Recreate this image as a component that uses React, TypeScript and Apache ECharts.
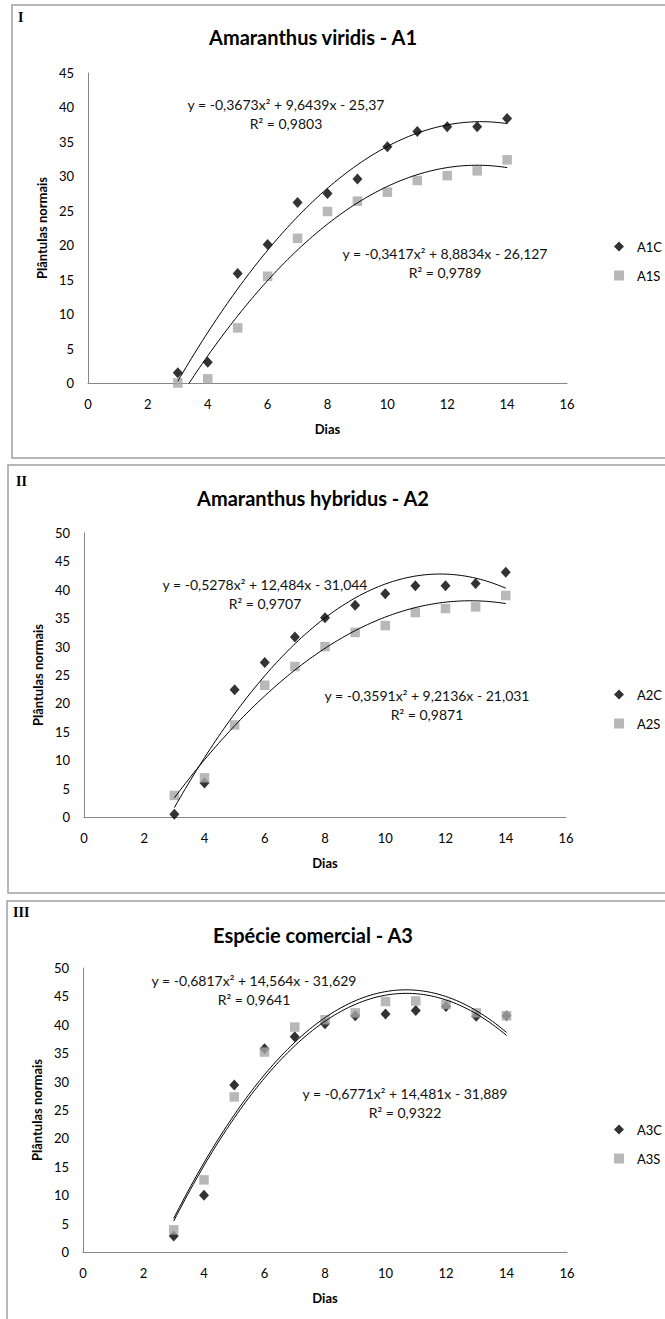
import React, { useEffect, useRef } from "react";
import * as echarts from "echarts";

// Days (x values)
const dias = [3, 4, 5, 6, 7, 8, 9, 10, 11, 12, 13, 14];

// Panel I - Amaranthus viridis
const a1c = [1.5, 3.0, 15.9, 20.1, 26.2, 27.5, 29.6, 34.3, 36.5, 37.2, 37.2, 38.4];
const a1s = [0, 0.6, 8.0, 15.5, 21.0, 24.9, 26.4, 27.7, 29.4, 30.1, 30.8, 32.4];
// Panel II - Amaranthus hybridus
const a2c = [0.5, 6.0, 22.4, 27.2, 31.7, 35.1, 37.3, 39.3, 40.7, 40.7, 41.1, 43.1];
const a2s = [3.8, 6.9, 16.2, 23.2, 26.5, 30.0, 32.5, 33.7, 36.0, 36.7, 37.0, 39.0];
// Panel III - Espécie comercial
const a3c = [2.8, 10.0, 29.4, 35.8, 37.9, 40.2, 41.6, 41.9, 42.5, 43.2, 41.5, 41.6];
const a3s = [3.9, 12.7, 27.3, 35.2, 39.6, 40.9, 42.1, 44.1, 44.2, 43.6, 42.1, 41.6];

// Trend line coefficients [a, b, c] as printed in the chart (y = a x² + b x + c)
const fitA1C = [-0.3673, 9.6439, -25.37];
const fitA1S = [-0.3417, 8.8834, -26.127];
const fitA2C = [-0.5278, 12.484, -31.044];
const fitA2S = [-0.3591, 9.2136, -21.031];
const fitA3C = [-0.6817, 14.564, -31.629];
const fitA3S = [-0.6771, 14.481, -31.889];

const eqA1C = ["y = -0,3673x² + 9,6439x - 25,37", "R² = 0,9803"];
const eqA1S = ["y = -0,3417x² + 8,8834x - 26,127", "R² = 0,9789"];
const eqA2C = ["y = -0,5278x² + 12,484x - 31,044", "R² = 0,9707"];
const eqA2S = ["y = -0,3591x² + 9,2136x - 21,031", "R² = 0,9871"];
const eqA3C = ["y = -0,6817x² + 14,564x - 31,629", "R² = 0,9641"];
const eqA3S = ["y = -0,6771x² + 14,481x - 31,889", "R² = 0,9322"];

const titles = ["Amaranthus viridis - A1", "Amaranthus hybridus - A2", "Espécie comercial - A3"];
const numerals = ["I", "II", "III"];
const seriesNames = [["A1C", "A1S"], ["A2C", "A2S"], ["A3C", "A3S"]];
const yMax = [45, 50, 50];

const FONT = "Lato, 'Open Sans', sans-serif";

function trend(c: number[], x0: number, x1: number) {
  const pts: number[][] = [];
  const n = 120;
  for (let i = 0; i <= n; i++) {
    const x = x0 + ((x1 - x0) * i) / n;
    pts.push([x, c[0] * x * x + c[1] * x + c[2]]);
  }
  return pts;
}

const pairs = (ys: number[]) => dias.map((d, i) => [d, ys[i]]);

export default function App() {
  const ref = useRef<HTMLDivElement>(null);

  useEffect(() => {
    if (!ref.current) return;
    const chart = echarts.init(ref.current, null, { renderer: "svg" });

    const grids = [
      { left: 88, top: 73, width: 479, height: 310 },
      { left: 84, top: 533, width: 482, height: 284 },
      { left: 83, top: 968, width: 484, height: 284 },
    ];
    const titleY = [22, 483, 920];
    const legendTop = [234, 682, 1117];
    const frames = [
      { x: 12, y: 5, h: 453 },
      { x: 8, y: 465, h: 428 },
      { x: 7, y: 901, h: 500 },
    ];
    const numeralPos = [
      [18, 10],
      [16, 474],
      [13, 905],
    ];

    const data = [
      [a1c, a1s],
      [a2c, a2s],
      [a3c, a3s],
    ];
    const fits = [
      [fitA1C, fitA1S],
      [fitA2C, fitA2S],
      [fitA3C, fitA3S],
    ];
    const eqs = [
      [eqA1C, eqA1S],
      [eqA2C, eqA2S],
      [eqA3C, eqA3S],
    ];
    const eqPos = [
      [
        [286, 104],
        [445, 253],
      ],
      [
        [265, 584],
        [427, 695],
      ],
      [
        [254, 980],
        [405, 1093],
      ],
    ];

    const axisLine = { show: true, lineStyle: { color: "#868686", width: 1 } };
    const axisLabel = { color: "#000", fontFamily: FONT, fontSize: 13, margin: 14 };

    const xAxis = grids.map((_, i) => ({
      type: "value",
      gridIndex: i,
      min: 0,
      max: 16,
      interval: 2,
      name: "Dias",
      nameLocation: "middle",
      nameGap: 39,
      nameTextStyle: { fontFamily: FONT, fontWeight: "bold", fontSize: 13, color: "#000" },
      axisLine,
      axisTick: { show: false },
      splitLine: { show: false },
      axisLabel,
    }));
    const yAxis = grids.map((_, i) => ({
      type: "value",
      gridIndex: i,
      min: 0,
      max: yMax[i],
      interval: 5,
      name: "Plântulas normais",
      nameLocation: "middle",
      nameRotate: 90,
      nameGap: 38,
      nameTextStyle: { fontFamily: FONT, fontWeight: "bold", fontSize: 13, color: "#000" },
      axisLine,
      axisTick: { show: false },
      splitLine: { show: false },
      axisLabel,
    }));

    const series: any[] = [];
    for (let i = 0; i < 3; i++) {
      series.push({
        name: seriesNames[i][0],
        type: "scatter",
        xAxisIndex: i,
        yAxisIndex: i,
        symbol: "diamond",
        symbolSize: [10, 11],
        itemStyle: { color: "#000" },
        z: 2,
        data: pairs(data[i][0]),
      });
      series.push({
        name: seriesNames[i][1],
        type: "scatter",
        xAxisIndex: i,
        yAxisIndex: i,
        symbol: "rect",
        symbolSize: 9.5,
        itemStyle: { color: "#a6a6a6" },
        z: 3,
        data: pairs(data[i][1]),
      });
      for (let k = 0; k < 2; k++) {
        series.push({
          name: "trend " + seriesNames[i][k],
          type: "line",
          xAxisIndex: i,
          yAxisIndex: i,
          showSymbol: false,
          symbol: "none",
          clip: true,
          silent: true,
          z: 4,
          lineStyle: { color: "#000", width: 1 },
          data: trend(fits[i][k], 3, 14),
        });
      }
    }

    const graphics: any[] = [];
    for (let i = 0; i < 3; i++) {
      graphics.push({
        type: "rect",
        shape: { x: frames[i].x, y: frames[i].y, width: 720, height: frames[i].h },
        style: { fill: "none", stroke: "#a0a0a0", lineWidth: 1.5 },
        silent: true,
      });
      graphics.push({
        type: "text",
        x: numeralPos[i][0],
        y: numeralPos[i][1],
        style: {
          text: numerals[i],
          font: "bold 14px 'Liberation Serif', 'DejaVu Serif', serif",
          fill: "#000",
        },
      });
      for (let k = 0; k < 2; k++) {
        const [cx, cy] = eqPos[i][k];
        graphics.push({
          type: "text",
          x: cx,
          y: cy,
          style: {
            text: eqs[i][k][0],
            font: "14px " + FONT,
            fill: "#111",
            align: "center",
            verticalAlign: "middle",
          },
        });
        graphics.push({
          type: "text",
          x: cx,
          y: cy + 19,
          style: {
            text: eqs[i][k][1],
            font: "14px " + FONT,
            fill: "#111",
            align: "center",
            verticalAlign: "middle",
          },
        });
      }
    }

    chart.setOption({
      animation: false,
      backgroundColor: "#fff",
      title: titles.map((t, i) => ({
        text: t,
        left: 308,
        top: titleY[i],
        textAlign: "center",
        textStyle: { fontFamily: FONT, fontWeight: "bold", fontSize: 20, color: "#000" },
      })),
      legend: seriesNames.map((names, i) => ({
        orient: "vertical",
        left: 609,
        top: legendTop[i],
        itemWidth: 10,
        itemHeight: 10,
        itemGap: 14,
        selectedMode: false,
        textStyle: { fontFamily: FONT, fontSize: 13, color: "#000", lineHeight: 15, padding: [0, 0, 0, 8] },
        data: [
          { name: names[0], icon: "diamond", itemStyle: { color: "#000" } },
          { name: names[1], icon: "rect", itemStyle: { color: "#a6a6a6" } },
        ],
      })),
      grid: grids,
      xAxis,
      yAxis,
      series,
      graphic: graphics,
    });

    return () => chart.dispose();
  }, []);

  return (
    <div
      ref={ref}
      style={{ position: "absolute", left: 0, top: 0, width: 665, height: 1319, background: "#fff" }}
    />
  );
}
